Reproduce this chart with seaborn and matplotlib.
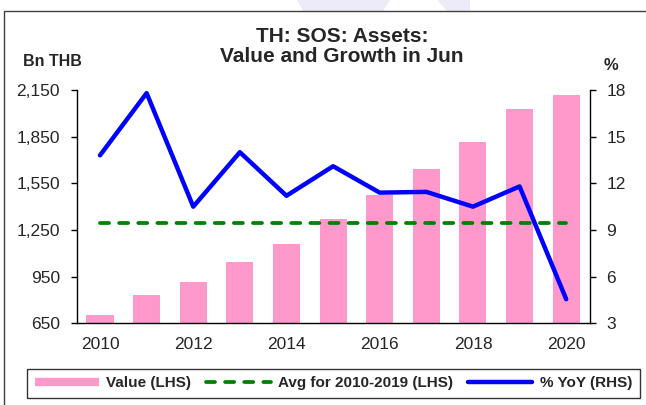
"""TH: SOS assets - value and growth in June"""

import matplotlib
matplotlib.use("Agg")
import matplotlib.pyplot as plt
import matplotlib.ticker as mticker
from matplotlib.lines import Line2D
from matplotlib.patches import Polygon, Rectangle
import seaborn as sns

# Dados
anos = [2010, 2011, 2012, 2013, 2014, 2015, 2016, 2017, 2018, 2019, 2020]
valor_bn_thb = [706, 830, 918, 1047, 1163, 1320, 1472, 1642, 1813, 2028, 2120]
crescimento_yoy = [13.8, 17.8, 10.5, 14.0, 11.2, 13.1, 11.4, 11.45, 10.5, 11.8, 4.55]
media_2010_2019 = 1292

ticks_esq = [650, 950, 1250, 1550, 1850, 2150]
ticks_dir = [3, 6, 9, 12, 15, 18]
anos_rotulo = [2010, 2012, 2014, 2016, 2018, 2020]

rosa = "#FF99CC"
verde = "#008000"
azul = "#0000FF"

sns.set_theme(style="white")
plt.rcParams["font.family"] = ["Liberation Sans", "DejaVu Sans"]

W, H = 646, 405
fig = plt.figure(figsize=(W / 100, H / 100), dpi=100)


def px(x, y):
    return (x / W, 1 - y / H)


# Marca d'agua e moldura
for pts in ([(297, 0), (390, 0), (383, 11), (303, 11)],
            [(437, 0), (470, 0), (470, 11), (447, 11)]):
    fig.patches.append(Polygon([px(*p) for p in pts], closed=True,
                               transform=fig.transFigure, facecolor="#ECEBF7",
                               edgecolor="none", zorder=0))
fig.patches.append(Rectangle(px(4, 406), 1.2, (406 - 11) / H, transform=fig.transFigure,
                             facecolor="none", edgecolor="#404040", lw=1.0, zorder=1))

ax = fig.add_axes([76.7 / W, 1 - 323.3 / H, (589.5 - 76.7) / W, (323.3 - 90) / H])
ax.patch.set_alpha(0)

# Barras
sns.barplot(x=anos, y=valor_bn_thb, native_scale=True, color=rosa, saturation=1,
            width=0.58, linewidth=0, ax=ax)

# Media 2010-2019
sns.lineplot(x=anos, y=[media_2010_2019] * len(anos), ax=ax, color=verde, lw=2.7,
             linestyle=(0, (2.4, 2.7)), dash_capstyle="round")

ax.set_xlim(2009.5, 2020.5)
ax.set_ylim(650, 2150)
ax.set_yticks(ticks_esq)
ax.yaxis.set_major_formatter(mticker.FuncFormatter(lambda v, p: f"{v:,.0f}"))
ax.set_xticks(anos_rotulo)
ax.set_xticklabels([str(a) for a in anos_rotulo])
ax.set_xticks([a - 0.5 for a in anos] + [anos[-1] + 0.5], minor=True)
ax.tick_params(axis="x", which="major", length=0, pad=10, labelsize=12.5)
ax.tick_params(axis="x", which="minor", length=4, width=1, direction="out", color="black")
ax.tick_params(axis="y", length=4, width=1, direction="out", pad=8, labelsize=12.5,
               left=True, color="black")
ax.set_xlabel("")
ax.set_ylabel("")
for lado in ["top", "right"]:
    ax.spines[lado].set_visible(False)
for lado in ["left", "bottom"]:
    ax.spines[lado].set_color("black")
    ax.spines[lado].set_linewidth(1)

# Crescimento anual
ax2 = ax.twinx()
sns.lineplot(x=anos, y=crescimento_yoy, ax=ax2, color=azul, lw=3.2)
ax2.set_ylim(3, 18)
ax2.set_yticks(ticks_dir)
ax2.tick_params(axis="y", length=4, width=1, direction="out", pad=8, labelsize=12.5,
                right=True, color="black")
ax2.set_ylabel("")
for lado in ["top", "left", "bottom"]:
    ax2.spines[lado].set_visible(False)
ax2.spines["right"].set_color("black")
ax2.spines["right"].set_linewidth(1)

# Titulos
fig.text(*px(342, 36), "TH: SOS: Assets:", ha="center", va="center",
         fontsize=15, fontweight="bold")
fig.text(*px(342, 57), "Value and Growth in Jun", ha="center", va="center",
         fontsize=15, fontweight="bold")
fig.text(*px(52, 61), "Bn THB", ha="center", va="center", fontsize=11.5, fontweight="bold")
fig.text(*px(611, 65), "%", ha="center", va="center", fontsize=12, fontweight="bold")

# Legenda
alcas = [
    Line2D([], [], color=rosa, lw=6, solid_capstyle="butt"),
    Line2D([], [], color=verde, lw=2.7, linestyle=(0, (2.4, 2.7)), dash_capstyle="round"),
    Line2D([], [], color=azul, lw=3.2),
]
rotulos = ["Value (LHS)", "Avg for 2010-2019 (LHS)", "% YoY (RHS)"]
leg = fig.legend(alcas, rotulos, ncol=3, loc="center",
                 bbox_to_anchor=(px(27, 400)[0], px(27, 400)[1], (640 - 27) / W, 33 / H),
                 bbox_transform=fig.transFigure, mode="expand", frameon=True,
                 fancybox=False, edgecolor="black", handlelength=4.2, handletextpad=0.5,
                 columnspacing=1.0, borderaxespad=0, borderpad=0.5,
                 prop={"weight": "bold", "size": 11})
leg.get_frame().set_linewidth(1)

fig.savefig("out.png", dpi=100)
